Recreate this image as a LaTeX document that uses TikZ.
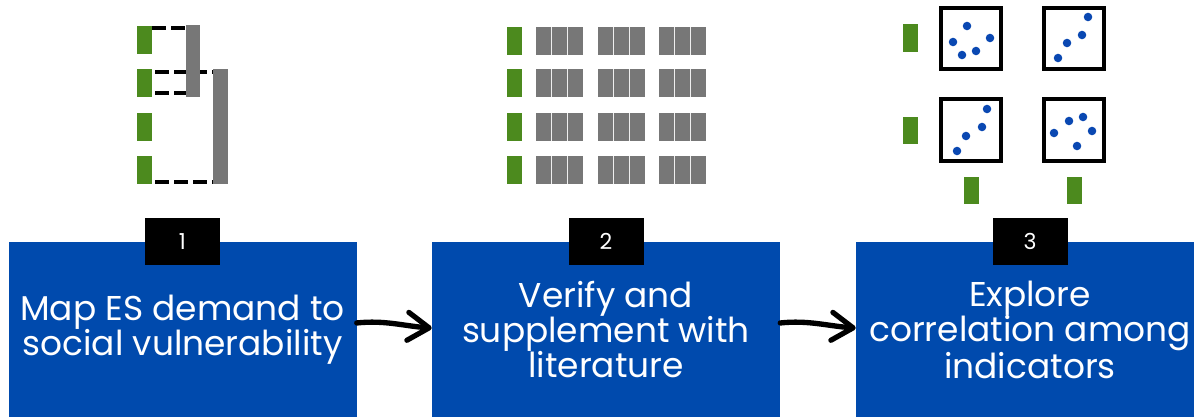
\documentclass[tikz,border=0pt]{standalone}
\usepackage{fontspec}
\setmainfont{Poppins}
\usetikzlibrary{arrows.meta}
\definecolor{stepblue}{RGB}{0,74,173}
\definecolor{dotblue}{RGB}{10,72,178}
\definecolor{leaf}{RGB}{76,138,30}
\definecolor{bar}{RGB}{119,119,119}
\tikzset{
  stepbox/.style={fill=stepblue, draw=none, minimum width=261pt, minimum height=131.25pt,
    inner sep=0pt, text=white, align=center, font=\fontsize{25.8}{26.5}\selectfont},
  numtag/.style={fill=black, minimum width=56.25pt, minimum height=35.25pt, inner sep=0pt,
    text=white, font=\fontsize{16.5}{18}\selectfont},
  flow/.style={line width=4pt, line cap=round,
    -{Straight Barb[length=16pt, width=21pt, line width=3.9pt, round]}},
  ind/.style={fill=leaf},
  col/.style={fill=bar},
  cellgap/.style={draw=white!88!bar, line width=0.7pt},
  link/.style={line width=3pt, dash pattern=on 10.5pt off 3.75pt},
  frame/.style={line width=3pt, draw=black, fill=white},
  dot/.style={fill=dotblue}
}
\begin{document}
\begin{tikzpicture}[x=0.75pt, y=-0.75pt]
\useasboundingbox (0,0) rectangle (1194,417);
\clip (0,0) rectangle (1194,417);

% ---------- step boxes ----------
\node[stepbox] (box1) at (182.5,329.5) {Map ES demand to\\social vulnerability};
\node[stepbox] (box2) at (606,329.5) {Verify and\\supplement with\\literature};
\node[stepbox] (box3) at (1030,329.5) {Explore\\correlation among\\indicators};
\node[numtag] (num1) at (box1.north) {1};
\node[numtag] (num2) at (box2.north) {2};
\node[numtag] (num3) at (box3.north) {3};

% ---------- connectors ----------
\draw[flow] ([yshift=4.9pt]box1.east) .. controls +(28,-3) and +(-28,-2) .. ([yshift=1.1pt]box2.west);
\draw[flow] ([yshift=4.9pt]box2.east) .. controls +(28,-3) and +(-28,-2) .. ([yshift=1.1pt]box3.west);

% ---------- icon 1: grouping indicators ----------
\foreach \y in {26,69,113,156} \fill[ind] (137,\y) rectangle (152,\y+28);
\draw[link] (152,28) -- (186,28);
\draw[link] (155,72) -- (213,72);
\draw[link] (155,93) -- (186,93);
\draw[link] (155,182) -- (213,182);
\fill[col] (186,25) rectangle (200,97);
\fill[col] (213,69) rectangle (228,184);

% ---------- icon 2: indicator table ----------
\foreach \y in {27,69,113,156} {
  \fill[ind] (507,\y) rectangle (522,\y+28);
  \foreach \gx in {536,598,659} {
    \fill[col] (\gx,\y) rectangle (\gx+46.5,\y+28);
    \draw[cellgap] (\gx+15.5,\y) -- (\gx+15.5,\y+28);
    \draw[cellgap] (\gx+31,\y) -- (\gx+31,\y+28);
  }
}

% ---------- icon 3: correlation plots ----------
\fill[ind] (903,24) rectangle (918,52);
\fill[ind] (903,117) rectangle (918,144);
\fill[ind] (964,177) rectangle (979,204);
\fill[ind] (1067,177) rectangle (1082,204);
\draw[frame] (941,8) rectangle (1001,69);
\draw[frame] (1044,8) rectangle (1104,69);
\draw[frame] (941,99) rectangle (1001,161);
\draw[frame] (1044,99) rectangle (1104,161);
\foreach \p in {(967,26),(953,42),(962,55),(976,51),(990,38),
                (1088,17),(1082,35),(1067,43),(1058,58),
                (987,109),(982,127),(966,136),(957,151),
                (1083,117),(1069,121),(1054,133),(1092,131),(1077,146)}
  \fill[dot] \p circle (3.2pt);
\end{tikzpicture}
\end{document}
